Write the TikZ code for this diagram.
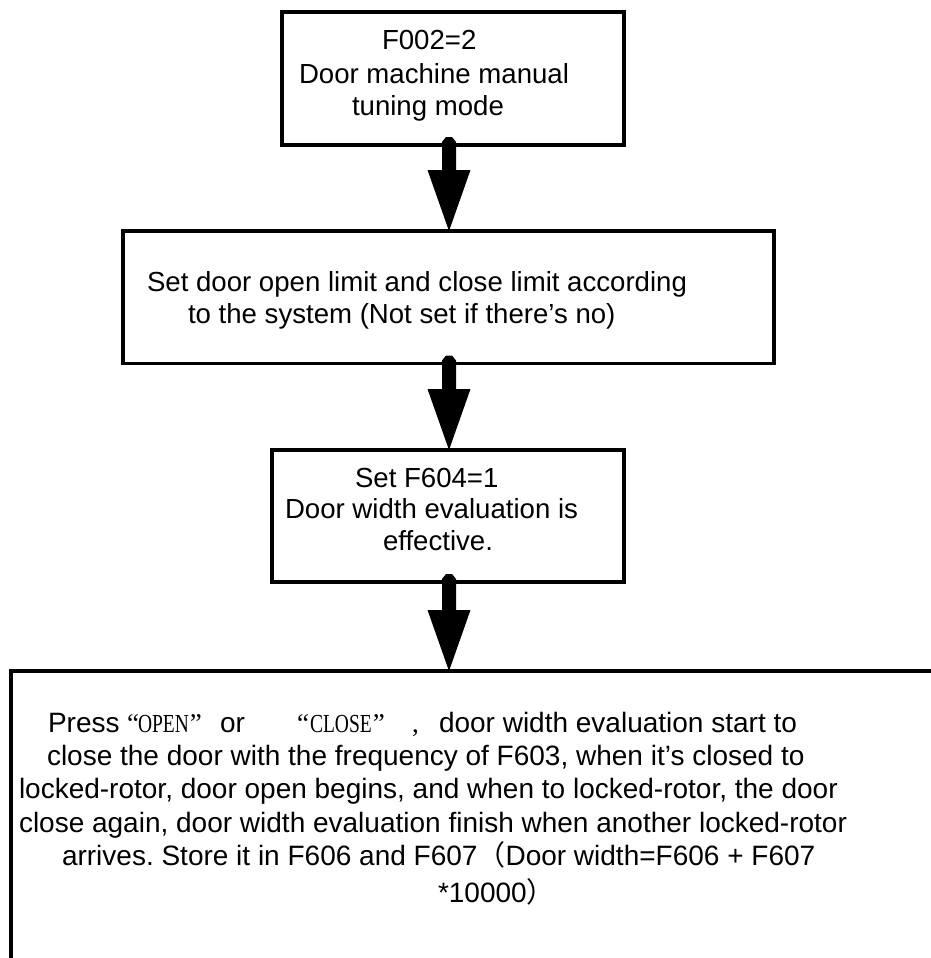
\documentclass[tikz,border=0pt]{standalone}
\usepackage{fontspec}
\setmainfont{Liberation Sans}
\newfontfamily\cjkfont{Noto Sans CJK SC}
\newfontfamily\songlatin[FakeStretch=0.75]{Liberation Serif}
\newfontfamily\quotefont{Liberation Serif}
\usetikzlibrary{calc}
\frenchspacing
\newcommand\fatarrow[3]{%
  \coordinate (#3T) at ($(#1.south -| ax)+(0,-8)$);
  \coordinate (#3P) at (#2.north -| ax);
  \coordinate (#3H) at ($(#3P)+(0,-61)$);
  \fill ($(#3T)+(-7,5)$) -- ($(#3T)+(-3,0)$) -- ($(#3T)+(3,0)$) -- ($(#3T)+(7,5)$)
    -- ($(#3H)+(7,0)$) -- ($(#3H)+(21.5,0)$) -- (#3P) -- ($(#3H)+(-21.5,0)$)
    -- ($(#3H)+(-7,0)$) -- cycle;
}
\begin{document}
\begin{tikzpicture}[x=1pt,y=-1pt,
  box/.style={draw,line width=3.3pt,inner sep=0pt,outer sep=0pt},
  txt/.style={anchor=base west,inner sep=0pt,outer sep=0pt,font=\fontsize{27.6}{33}\selectfont},
  txtb/.style={anchor=base west,inner sep=0pt,outer sep=0pt,font=\fontsize{28}{33}\selectfont},
  qt/.style={anchor=base west,inner sep=0pt,outer sep=0pt,font=\fontsize{27}{33}\quotefont},
  sl/.style={anchor=base west,inner sep=0pt,outer sep=0pt,font=\fontsize{26}{33}\songlatin},
  cj/.style={anchor=base west,inner sep=0pt,outer sep=0pt,font=\fontsize{26}{33}\cjkfont}]
\useasboundingbox (0,0) rectangle (931,958);
\clip (0,0) rectangle (931,958);
\fill[white] (0,0) rectangle (931,958);
\coordinate (ax) at (449,0);

% boxes
\node[box,minimum width=342pt,minimum height=133pt] (b1) at (453,78.5) {};
\node[box,minimum width=651pt,minimum height=132.5pt] (b2) at (448.5,297.25) {};
\node[box,minimum width=352pt,minimum height=132pt] (b3) at (448,516) {};
\node[box,minimum width=949pt,minimum height=319pt] (b4) at (485.5,830.5) {};

% arrows
\fatarrow{b1}{b2}{a1}
\fatarrow{b2}{b3}{a2}
\fatarrow{b3}{b4}{a3}

% box 1 text
\node[txt] (t1a) at (382,50) {F002=2};
\node[txt] (t1b) at (299,83) {Door machine manual};
\node[txt] (t1c) at (352,115) {tuning mode};

% box 2 text
\node[txt] (t2a) at (147,291) {Set door open limit and close limit according};
\node[txt] (t2b) at (188,323) {to the system (Not set if there’s no)};

% box 3 text
\node[txt] (t3a) at (355,487) {Set F604=1};
\node[txt] (t3b) at (285,518) {Door width evaluation is};
\node[txt] (t3c) at (383,550) {effective.};

% box 4 text
\node[txtb] (p1) at (48,732) {Press};
\node[qt] (q1) at (127,732) {“};
\node[sl] (o1) at (138,732) {OPEN};
\node[qt] (q2) at ($(o1.base east)+(1,0)$) {”};
\node[txtb] (or1) at (220,732) {or};
\node[qt] (q3) at (297,732) {“};
\node[sl] (c1) at (310,732) {CLOSE};
\node[qt] (q4) at ($(c1.base east)+(1,0)$) {”};
\node[qt] (cm) at (412,732) {,};
\node[txtb] (d1) at (439,732) {door width evaluation start to};
\node[txtb] (l2) at (47,765) {close the door with the frequency of F603, when it’s closed to};
\node[txtb] (l3) at (19,798) {locked-rotor, door open begins, and when to locked-rotor, the door};
\node[txtb] (l4) at (19,832) {close again, door width evaluation finish when another locked-rotor};
\node[txtb] (l5) at (62,865) {arrives. Store it in F606 and F607{\cjkfont （}Door width=F606 + F607};
\node[txtb] (l6) at (438,902) {*10000{\cjkfont ）}};
\end{tikzpicture}
\end{document}
